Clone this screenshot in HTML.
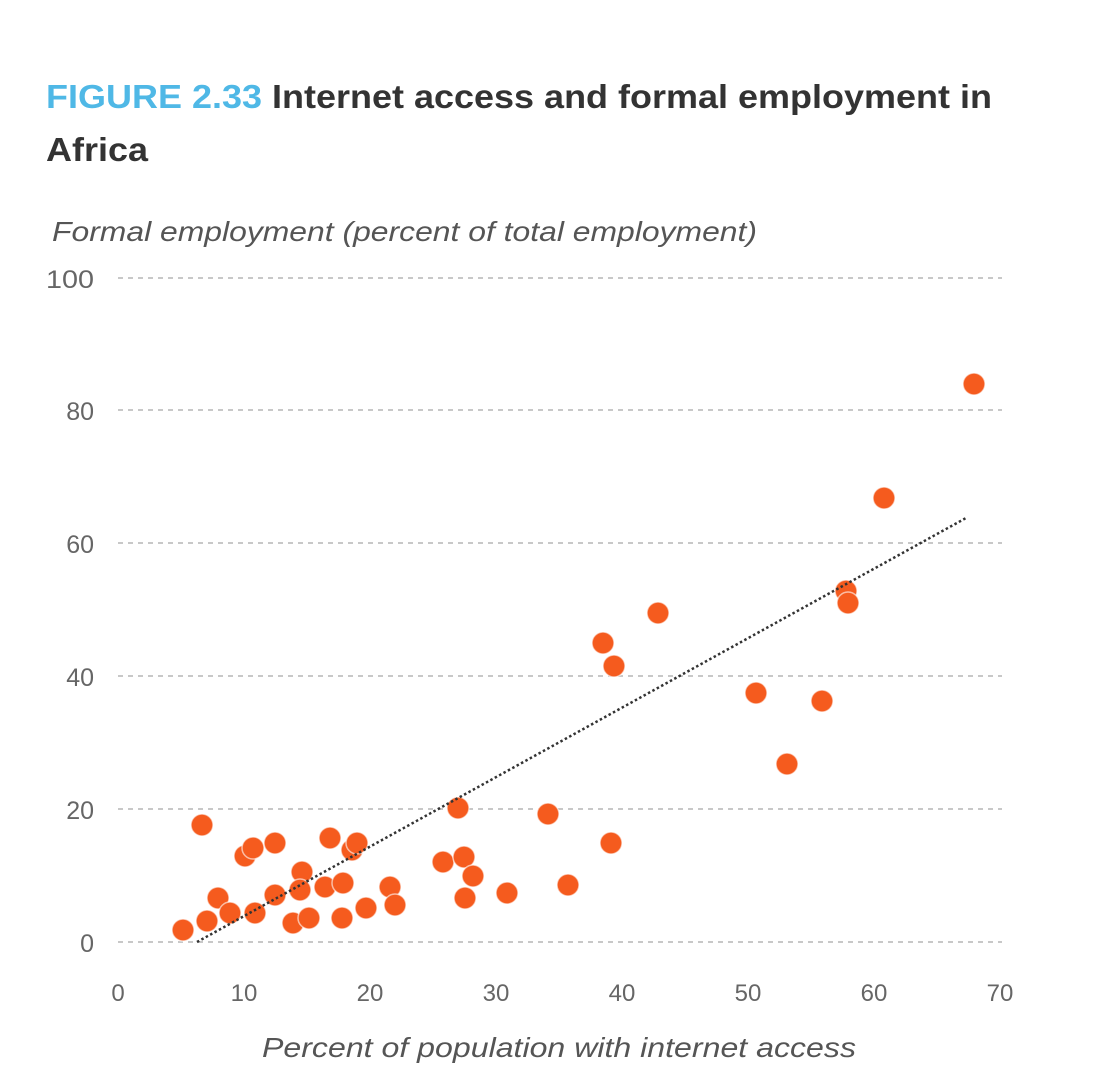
<!DOCTYPE html>
<html><head><meta charset="utf-8"><style>
body{margin:0;background:#fff;width:1115px;height:1090px;overflow:hidden}
svg{display:block}
</style></head><body>
<svg width="1115" height="1090" xmlns="http://www.w3.org/2000/svg" font-family="Liberation Sans, sans-serif">
<text x="46" y="108" font-size="33" font-weight="bold" fill="#333" textLength="946" lengthAdjust="spacingAndGlyphs"><tspan fill="#4fb8e6">FIGURE 2.33</tspan> Internet access and formal employment in</text>
<text x="46" y="161" font-size="33" font-weight="bold" fill="#333" textLength="102" lengthAdjust="spacingAndGlyphs">Africa</text>
<text x="52" y="241" font-size="28" font-style="italic" fill="#555" textLength="705" lengthAdjust="spacingAndGlyphs">Formal employment (percent of total employment)</text>
<g stroke="#c8c8c8" stroke-width="2" stroke-dasharray="5,5">
<line x1="118" y1="278" x2="1002" y2="278"/>
<line x1="118" y1="410" x2="1002" y2="410"/>
<line x1="118" y1="543" x2="1002" y2="543"/>
<line x1="118" y1="676" x2="1002" y2="676"/>
<line x1="118" y1="809" x2="1002" y2="809"/>
<line x1="118" y1="942" x2="1002" y2="942"/>
</g>
<g font-size="25" fill="#666" text-anchor="end">
<text x="94" y="288" textLength="48" lengthAdjust="spacingAndGlyphs">100</text><text x="94" y="420">80</text><text x="94" y="553">60</text>
<text x="94" y="686">40</text><text x="94" y="819">20</text><text x="94" y="952">0</text>
</g>
<g font-size="24" fill="#666" text-anchor="middle">
<text x="118" y="1001">0</text><text x="244" y="1001">10</text><text x="370" y="1001">20</text>
<text x="496" y="1001">30</text><text x="622" y="1001">40</text><text x="748" y="1001">50</text>
<text x="874" y="1001">60</text><text x="1000" y="1001">70</text>
</g>
<text x="262" y="1057" font-size="28" font-style="italic" fill="#555" textLength="594" lengthAdjust="spacingAndGlyphs">Percent of population with internet access</text>
<g fill="#f55b1e" stroke="#fff" stroke-opacity="0.6" stroke-width="1.5">
<circle cx="202" cy="825" r="11"/><circle cx="183" cy="930" r="11"/><circle cx="207" cy="921" r="11"/>
<circle cx="218" cy="898" r="11"/><circle cx="230" cy="913" r="11"/><circle cx="245" cy="856" r="11"/>
<circle cx="253" cy="848" r="11"/><circle cx="275" cy="843" r="11"/><circle cx="255" cy="913" r="11"/>
<circle cx="275" cy="895" r="11"/><circle cx="293" cy="923" r="11"/><circle cx="309" cy="918" r="11"/>
<circle cx="302" cy="872" r="11"/><circle cx="300" cy="890" r="11"/><circle cx="325" cy="887" r="11"/>
<circle cx="343" cy="883" r="11"/><circle cx="330" cy="838" r="11"/><circle cx="352" cy="850" r="11"/>
<circle cx="357" cy="843" r="11"/><circle cx="342" cy="918" r="11"/><circle cx="366" cy="908" r="11"/>
<circle cx="390" cy="887" r="11"/><circle cx="395" cy="905" r="11"/><circle cx="443" cy="862" r="11"/>
<circle cx="458" cy="808" r="11"/><circle cx="464" cy="857" r="11"/><circle cx="473" cy="876" r="11"/>
<circle cx="465" cy="898" r="11"/><circle cx="507" cy="893" r="11"/><circle cx="548" cy="814" r="11"/>
<circle cx="568" cy="885" r="11"/><circle cx="611" cy="843" r="11"/><circle cx="603" cy="643" r="11"/>
<circle cx="614" cy="666" r="11"/><circle cx="658" cy="613" r="11"/><circle cx="756" cy="693" r="11"/>
<circle cx="787" cy="764" r="11"/><circle cx="822" cy="701" r="11"/><circle cx="846" cy="591" r="11"/>
<circle cx="848" cy="603" r="11"/><circle cx="884" cy="498" r="11"/><circle cx="974" cy="384" r="11"/>
</g>
<line x1="197" y1="942" x2="966" y2="518" stroke="#333" stroke-width="2.5" stroke-dasharray="2.5,2.5"/>
</svg>
</body></html>
